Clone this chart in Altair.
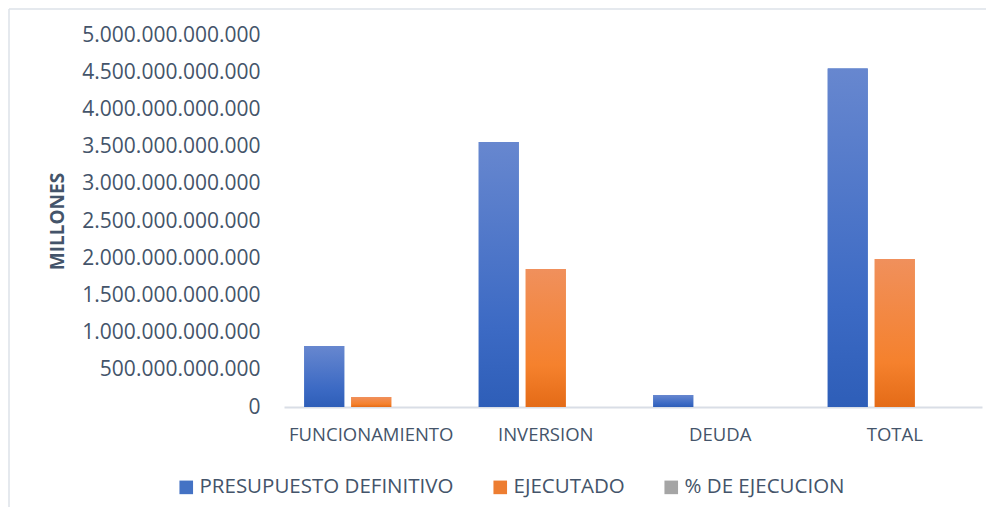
import altair as alt
import pandas as pd

categorias = ["FUNCIONAMIENTO", "INVERSION", "DEUDA", "TOTAL"]
series = ["PRESUPUESTO DEFINITIVO", "EJECUTADO", "% DE EJECUCION"]
presupuesto = [820e9, 3562e9, 161e9, 4550e9]
ejecutado = [134e9, 1855e9, 0, 1989e9]
porcentaje = [0.163, 0.521, 0.0, 0.437]
y_ticks = [0, 5e11, 1e12, 1.5e12, 2e12, 2.5e12, 3e12, 3.5e12, 4e12, 4.5e12, 5e12]

legend_colors = ["#4472C4", "#ED7D31", "#A5A5A5"]

rows = []
for i, c in enumerate(categorias):
    rows.append({"categoria": c, "serie": series[0], "valor": presupuesto[i]})
    rows.append({"categoria": c, "serie": series[1], "valor": ejecutado[i]})
    rows.append({"categoria": c, "serie": series[2], "valor": porcentaje[i]})
df = pd.DataFrame(rows)

TEXT = "#44546A"
FONT = "Open Sans"


def grad(c0, cm, c1):
    return {
        "gradient": "linear", "x1": 0, "y1": 0, "x2": 0, "y2": 1,
        "stops": [{"offset": 0, "color": c0}, {"offset": 0.7, "color": cm},
                  {"offset": 1, "color": c1}],
    }


g_blue = grad("#6787CF", "#3C6AC4", "#2E5EB8")
g_orange = grad("#F0905C", "#F5812D", "#E46B17")
g_gray = grad("#B8B8B8", "#A5A5A5", "#8F8F8F")

x_enc = alt.X(
    "categoria:N", sort=categorias,
    scale=alt.Scale(paddingInner=0.232, paddingOuter=0.116),
    axis=alt.Axis(title=None, labelAngle=0, labelFont=FONT, labelFontSize=18.5,
                  labelColor=TEXT, labelPadding=18, ticks=False,
                  domainColor="#D9DEE6", domainWidth=2),
)
xo_enc = alt.XOffset("serie:N", sort=series,
                     scale=alt.Scale(paddingInner=0.149, paddingOuter=0))
y_enc = alt.Y(
    "valor:Q",
    scale=alt.Scale(domain=[0, 5e12], nice=False),
    axis=alt.Axis(values=y_ticks, title="MILLONES", grid=False, domain=False,
                  ticks=False,
                  labelExpr="replace(format(datum.value, ',.0f'), /,/g, '.')",
                  labelFont=FONT, labelFontSize=21, labelColor=TEXT,
                  labelPadding=24, titleFont=FONT, titleFontSize=19,
                  titleFontWeight="bold", titleColor=TEXT, titlePadding=17),
)

base = alt.Chart(df)

bars_legend = base.mark_bar().encode(
    x=x_enc, xOffset=xo_enc, y=y_enc,
    color=alt.Color(
        "serie:N", sort=series,
        scale=alt.Scale(domain=series, range=legend_colors),
        legend=alt.Legend(title=None, orient="none", direction="horizontal",
                          legendX=-108, legendY=442, symbolType="square",
                          symbolSize=185, symbolStrokeWidth=0,
                          labelFont=FONT, labelFontSize=20.5, labelColor=TEXT,
                          labelOffset=3, columnPadding=36, labelLimit=400),
    ),
)

bars_grad = base.mark_bar().encode(
    x=x_enc, xOffset=xo_enc, y=y_enc,
    fill={
        "condition": [
            {"test": "datum.serie === 'PRESUPUESTO DEFINITIVO'", "value": g_blue},
            {"test": "datum.serie === 'EJECUTADO'", "value": g_orange},
        ],
        "value": g_gray,
    },
)

frame_df = pd.DataFrame({"k": [0]})
top_border = alt.Chart(frame_df).mark_rule(color="#DCE2E9", strokeWidth=1.5).encode(
    x=alt.value(-275), x2=alt.value(708), y=alt.value(-26)
)
left_border = alt.Chart(frame_df).mark_rule(color="#DCE2E9", strokeWidth=1.5).encode(
    x=alt.value(-275), y=alt.value(-26), y2=alt.value(472)
)

chart = alt.layer(bars_legend, bars_grad, top_border, left_border).properties(
    width=698, height=372,
    autosize=alt.AutoSizeParams(type="none"),
    padding={"left": 276, "top": 27, "right": 4, "bottom": 100},
).configure_view(strokeOpacity=0)

chart.save("out.html", embed_options={"renderer": "svg", "actions": False})
